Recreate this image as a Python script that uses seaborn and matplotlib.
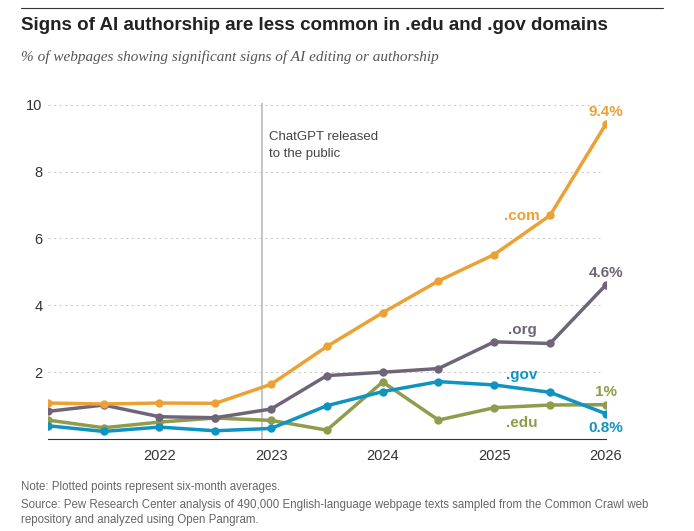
import matplotlib
matplotlib.use("Agg")
import matplotlib.pyplot as plt
import seaborn as sns
import pandas as pd

# --- Data (six-month averages, % of webpages) ---------------------------------
dates = [2021.0, 2021.5, 2022.0, 2022.5, 2023.0, 2023.5, 2024.0, 2024.5, 2025.0, 2025.5, 2026.0]
com = [1.08, 1.05, 1.08, 1.07, 1.64, 2.77, 3.78, 4.73, 5.52, 6.69, 9.42]
org = [0.83, 1.02, 0.67, 0.64, 0.90, 1.90, 2.00, 2.11, 2.91, 2.86, 4.61]
gov = [0.40, 0.23, 0.36, 0.25, 0.32, 1.00, 1.42, 1.72, 1.62, 1.40, 0.76]
edu = [0.57, 0.34, 0.51, 0.63, 0.56, 0.27, 1.71, 0.57, 0.94, 1.02, 1.03]
year_ticks = [2022, 2023, 2024, 2025, 2026]
y_ticks = [2, 4, 6, 8, 10]
chatgpt_release = 2022.92

colors = {"com": "#EBA133", "org": "#6F6577", "gov": "#0F93C1", "edu": "#8E9C4B"}

df = pd.DataFrame({"date": dates, "com": com, "org": org, "gov": gov, "edu": edu})
long = df.melt(id_vars="date", var_name="domain", value_name="pct")

sns.set_style("white")
plt.rcParams["font.family"] = ["Liberation Sans", "DejaVu Sans"]

fig = plt.figure(figsize=(6.94, 5.31), dpi=100)
ax = fig.add_axes([0.069, 0.173, 0.804, 0.633])

# draw in this order so .com stays on top
for name in ["edu", "gov", "org", "com"]:
    sub = long[long.domain == name]
    sns.lineplot(data=sub, x="date", y="pct", color=colors[name], linewidth=2.5,
                 marker="o", markersize=6, markeredgewidth=0, ax=ax, legend=False)

ax.set_xlim(2021.0, 2026.0)
ax.set_ylim(0, 10.05)
ax.set_xticks(year_ticks)
ax.set_xticklabels([str(y) for y in year_ticks], fontsize=10.5, color="#333333")
ax.set_yticks(y_ticks)
ax.set_yticklabels([str(v) for v in y_ticks], fontsize=10.5, color="#333333")
ax.set_xlabel("")
ax.set_ylabel("")
for v in y_ticks:
    ax.plot([2021.0, 2025.95], [v, v], color="#cccccc", lw=0.8, ls=(0, (2, 3)), zorder=0)
for s in ["top", "right", "left"]:
    ax.spines[s].set_visible(False)
ax.spines["bottom"].set_color("#333333")
ax.spines["bottom"].set_linewidth(0.8)
ax.tick_params(axis="x", length=4, color="#333333", pad=3)
ax.tick_params(axis="y", length=0, pad=4)
for lbl in ax.get_xticklabels():
    lbl.set_clip_on(False)

ax.axvline(chatgpt_release, color="#bbbbbb", lw=1.2, zorder=1)
ax.text(chatgpt_release + 0.06, 9.2, "ChatGPT released\nto the public", fontsize=9.5,
        color="#444444", va="top", linespacing=1.5)

lab = dict(fontsize=11, fontweight="bold", ha="center")
ax.text(2025.25, 6.55, ".com", color=colors["com"], **lab)
ax.text(2025.25, 3.15, ".org", color=colors["org"], **lab)
ax.text(2025.25, 1.8, ".gov", color=colors["gov"], **lab)
ax.text(2025.25, 0.35, ".edu", color=colors["edu"], **lab)
ax.text(2026, com[-1] + 0.25, "9.4%", color=colors["com"], **lab)
ax.text(2026, org[-1] + 0.25, "4.6%", color=colors["org"], **lab)
ax.text(2026, edu[-1] + 0.25, "1%", color=colors["edu"], **lab)
ax.text(2026, gov[-1] - 0.55, "0.8%", color=colors["gov"], **lab)

fig.add_artist(plt.Line2D([0.03, 0.955], [0.985, 0.985], color="#333333", lw=0.8))
fig.text(0.03, 0.952, "Signs of AI authorship are less common in .edu and .gov domains",
         fontsize=13.5, fontweight="bold", color="#222222", va="center")
fig.text(0.03, 0.893, "% of webpages showing significant signs of AI editing or authorship",
         fontsize=11, style="italic", color="#555555", va="center",
         family=["Liberation Serif", "DejaVu Serif"])
fig.text(0.03, 0.077, "Note: Plotted points represent six-month averages.", fontsize=8.3,
         color="#666666")
fig.text(0.03, 0.015, "Source: Pew Research Center analysis of 490,000 English-language webpage "
         "texts sampled from the Common Crawl web\nrepository and analyzed using Open Pangram.",
         fontsize=8.3, color="#666666", linespacing=1.3)

fig.savefig("out.png", dpi=100)
